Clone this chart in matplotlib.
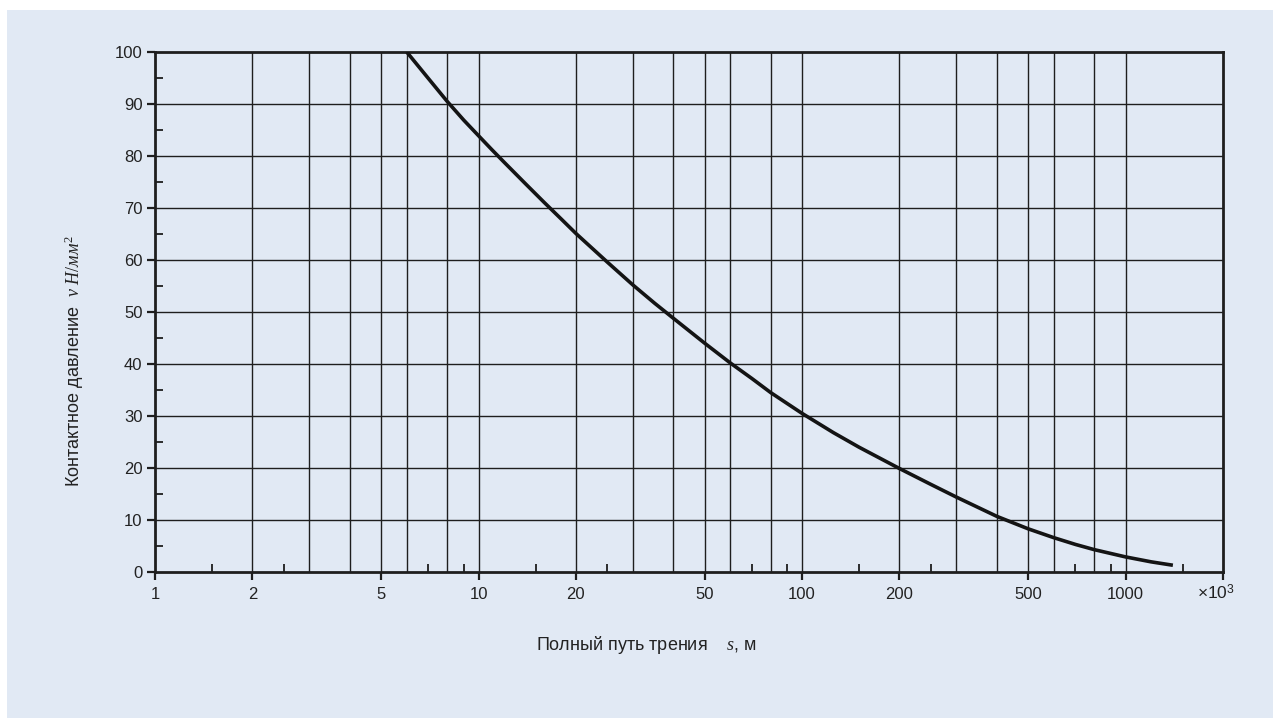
import matplotlib
matplotlib.use("Agg")
import matplotlib.pyplot as plt
from matplotlib.patches import Rectangle
from matplotlib.ticker import FixedLocator, NullFormatter

plt.rcParams['font.family'] = ['Liberation Sans', 'DejaVu Sans']
plt.rcParams['mathtext.fontset'] = 'custom'
plt.rcParams['mathtext.it'] = 'Liberation Serif:italic'
plt.rcParams['mathtext.rm'] = 'Liberation Serif'

# Data (s in thousands of metres, p in N/mm^2)
s_vals = [6, 7, 8, 9, 10, 11, 12, 14, 16, 18, 20, 25, 30, 35, 40, 50, 60, 70, 80, 100,
          125, 150, 200, 250, 300, 400, 500, 600, 700, 800, 1000, 1200, 1400]
p_vals = [100, 94.9, 90.5, 86.9, 83.9, 81.2, 78.8, 74.6, 71.0, 67.9, 65.1, 59.6, 55.2, 51.7,
          48.8, 44.0, 40.2, 37.2, 34.5, 30.5, 26.8, 24.0, 19.9, 16.85, 14.4, 10.7, 8.3, 6.6,
          5.3, 4.3, 2.9, 1.95, 1.3]

major_x = [1, 2, 5, 10, 20, 50, 100, 200, 500, 1000, 2000]
major_x_labels = ['1', '2', '5', '10', '20', '50', '100', '200', '500', '1000', '']
minor_x = [1.5, 2.5, 7, 9, 15, 25, 70, 90, 150, 250, 700, 900, 1500]
grid_x = [2, 3, 4, 5, 6, 8, 10, 20, 30, 40, 50, 60, 80, 100, 200, 300, 400, 500, 600, 800, 1000]
major_y = [0, 10, 20, 30, 40, 50, 60, 70, 80, 90, 100]
minor_y = [5, 15, 25, 35, 45, 55, 65, 75, 85, 95]
grid_y = [10, 20, 30, 40, 50, 60, 70, 80, 90]

W, H = 1273, 718
fig = plt.figure(figsize=(W / 100, H / 100), dpi=100, facecolor='white')
bg = '#E1E9F4'
fig.patches.append(Rectangle((7 / W, 0), 1 - 7 / W, 1 - 10 / H, transform=fig.transFigure,
                             facecolor=bg, edgecolor='none', zorder=-10))

ax = fig.add_axes([155 / W, 1 - 572 / H, (1223 - 155) / W, (572 - 52) / H])
ax.set_facecolor(bg)
ax.set_xscale('log')
ax.set_xlim(1, 2000)
ax.set_ylim(0, 100)

dark = '#1e1e1e'
for gx in grid_x:
    ax.axvline(gx, color=dark, lw=1.0, zorder=1)
for gy in grid_y:
    ax.axhline(gy, color=dark, lw=1.0, zorder=1)

ax.plot(s_vals, p_vals, color='#141414', lw=2.6, solid_capstyle='butt',
        solid_joinstyle='round', zorder=3)

for sp in ax.spines.values():
    sp.set_color(dark)
    sp.set_linewidth(2.0)

ax.xaxis.set_major_locator(FixedLocator(major_x))
ax.set_xticklabels(major_x_labels)
ax.xaxis.set_minor_locator(FixedLocator(minor_x))
ax.xaxis.set_minor_formatter(NullFormatter())
ax.yaxis.set_major_locator(FixedLocator(major_y))
ax.set_yticklabels([str(v) for v in major_y])
ax.yaxis.set_minor_locator(FixedLocator(minor_y))

ax.tick_params(axis='both', which='major', direction='out', length=6, width=1.6,
               color=dark, labelsize=12, labelcolor='#222222')
ax.tick_params(axis='x', which='major', pad=5)
ax.tick_params(axis='y', which='major', pad=3)
ax.tick_params(axis='both', which='minor', direction='in', length=6, width=1.3, color=dark)

fig.text(1197 / W, 1 - 593 / H, '×10$^{\\mathregular{3}}$', fontsize=12.5, color='#222222',
         ha='left', va='center')

fig.text(646 / W, 1 - 645 / H, 'Полный путь трения    $s$, м', fontsize=13, color='#222222',
         ha='center', va='center')

fig.text(74 / W, 1 - 361 / H, 'Контактное давление  $v\\ Н/мм^2$', fontsize=13,
         color='#222222', rotation=90, ha='center', va='center')

fig.savefig('out.png', dpi=100, facecolor='white')
